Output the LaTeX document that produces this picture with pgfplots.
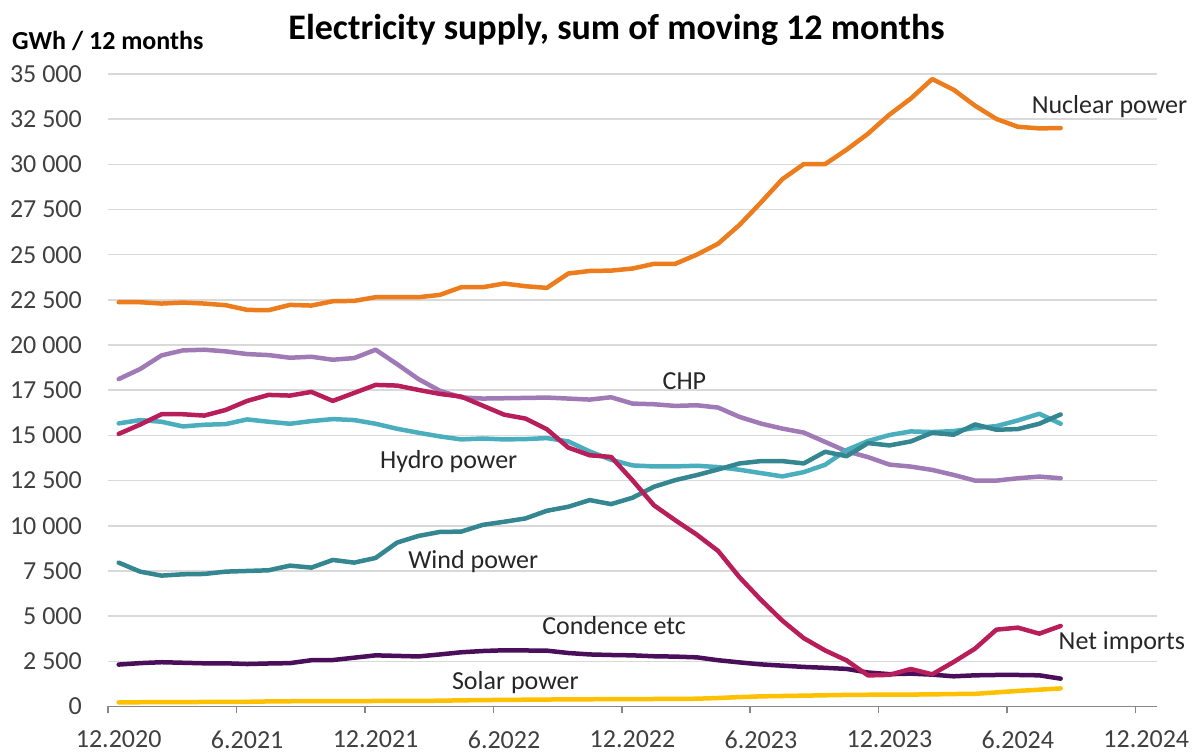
\documentclass[border=0pt]{standalone}
\usepackage{fontspec}
\setmainfont{Carlito}
\usepackage{pgfplots}
\usepackage{pgfplotstable}
\pgfplotsset{compat=1.18}
\definecolor{cNuc}{RGB}{237,125,28}
\definecolor{cCHP}{RGB}{160,122,182}
\definecolor{cHyd}{RGB}{75,174,190}
\definecolor{cWind}{RGB}{52,134,145}
\definecolor{cImp}{RGB}{184,30,90}
\definecolor{cCond}{RGB}{74,14,90}
\definecolor{cSol}{RGB}{255,192,0}
\definecolor{gridgray}{RGB}{217,217,217}
\definecolor{axisgray}{RGB}{134,134,134}
\definecolor{tickgray}{RGB}{64,64,64}
\definecolor{labgray}{RGB}{38,38,38}
\tikzset{labnode/.style={font=\fontsize{26}{31}\selectfont, text=labgray, inner sep=0pt}}
\pgfplotstableread{
x nuc chp hyd wind imp cond sol
0.5 22371 18118 15664 7961 15083 2320 230
1.5 22371 18672 15849 7463 15600 2400 235
2.5 22297 19428 15756 7242 16172 2450 240
3.5 22352 19705 15498 7316 16172 2420 245
4.5 22297 19742 15590 7334 16098 2390 250
5.5 22205 19650 15627 7463 16411 2390 255
6.5 21946 19502 15886 7500 16910 2350 260
7.5 21928 19446 15756 7537 17242 2380 280
8.5 22223 19299 15646 7795 17205 2400 290
9.5 22186 19354 15793 7685 17408 2560 295
10.5 22426 19188 15904 8109 16910 2570 300
11.5 22445 19280 15849 7961 17352 2700 300
12.5 22648 19742 15646 8220 17795 2830 305
13.5 22648 18948 15369 9068 17758 2800 305
14.5 22648 18118 15148 9437 17518 2770 310
15.5 22777 17472 14945 9659 17297 2880 320
16.5 23201 17103 14779 9677 17149 3000 340
17.5 23201 17040 14830 10050 16650 3070 355
18.5 23404 17057 14779 10221 16150 3110 365
19.5 23256 17075 14797 10406 15932 3100 375
20.5 23164 17094 14852 10830 15342 3090 385
21.5 23958 17039 14668 11052 14327 2960 395
22.5 24100 16983 14114 11421 13902 2880 400
23.5 24120 17112 13653 11199 13810 2850 405
24.5 24235 16762 13340 11550 12519 2830 410
25.5 24495 16725 13284 12159 11135 2780 415
26.5 24495 16633 13284 12528 10305 2760 420
27.5 25000 16670 13321 12804 9512 2720 430
28.5 25610 16541 13247 13118 8607 2560 470
29.5 26650 16024 13100 13450 7150 2440 520
30.5 27890 15655 12915 13579 5900 2330 560
31.5 29180 15378 12731 13579 4750 2260 580
32.5 30015 15157 12970 13450 3780 2190 600
33.5 30015 14640 13376 14096 3100 2140 620
34.5 30810 14120 14190 13850 2550 2080 640
35.5 31695 13800 14690 14576 1720 1880 650
36.5 32750 13386 15020 14447 1750 1790 655
37.5 33640 13275 15221 14668 2076 1817 660
38.5 34720 13090 15185 15148 1780 1762 670
39.5 34130 12814 15240 15037 2463 1670 690
40.5 33245 12500 15406 15609 3201 1725 700
41.5 32510 12500 15517 15314 4253 1744 780
42.5 32080 12629 15830 15351 4363 1744 860
43.5 31990 12721 16199 15646 4031 1725 930
44.5 32010 12629 15646 16162 4456 1541 1000
}\data
\begin{document}
\begin{tikzpicture}
\path[use as bounding box] (-108pt,-47.5pt) rectangle (1084pt,706.5pt);
\begin{axis}[
  at={(0pt,0pt)}, anchor=south west,
  width=1049pt, height=632.5pt, scale only axis,
  xmin=0, xmax=49, ymin=0, ymax=35000,
  scaled y ticks=false, scaled x ticks=false,
  axis x line*=bottom, axis y line*=left,
  y axis line style={draw=none},
  x axis line style={line width=1.5pt, color=axisgray},
  xtick={0,6,12,18,24,30,36,42,48},
  xticklabels={12.2020,6.2021,12.2021,6.2022,12.2022,6.2023,12.2023,6.2024,12.2024},
  ytick={0,2500,5000,7500,10000,12500,15000,17500,20000,22500,25000,27500,30000,32500,35000},
  yticklabels={0,2 500,5 000,7 500,10 000,12 500,15 000,17 500,20 000,22 500,25 000,27 500,30 000,32 500,35 000},
  ymajorgrids, grid style={line width=1.5pt, color=gridgray},
  xtick style={line width=1.5pt, color=axisgray},
  ytick style={draw=none},
  tick align=outside, major tick length=7pt,
  tick label style={font=\fontsize{26}{31}\selectfont, text=tickgray},
  xticklabel style={anchor=north, inner sep=0pt, yshift=-17pt, xshift=10.7pt},
  yticklabel style={anchor=east, inner sep=0pt, xshift=-19pt},
  clip=false,
  every axis plot/.append style={line width=4.5pt, line join=round, line cap=round, mark=none},
]
\addplot[cCHP] table[x=x, y=chp] {\data};
\addplot[cHyd] table[x=x, y=hyd] {\data};
\addplot[cWind] table[x=x, y=wind] {\data};
\addplot[cSol] table[x=x, y=sol] {\data};
\addplot[cCond] table[x=x, y=cond] {\data};
\addplot[cImp] table[x=x, y=imp] {\data};
\addplot[cNuc] table[x=x, y=nuc] {\data};
\node[labnode, anchor=base west] at (axis cs:43.14,32790) {Nuclear power};
\node[labnode, anchor=base west] at (axis cs:25.9,17515) {CHP};
\node[labnode, anchor=base west] at (axis cs:12.7,13143) {Hydro power};
\node[labnode, anchor=base west] at (axis cs:14.02,7648) {Wind power};
\node[labnode, anchor=base west] at (axis cs:20.28,3957) {Condence etc};
\node[labnode, anchor=base west] at (axis cs:16.06,968) {Solar power};
\node[labnode, anchor=base west] at (axis cs:44.4,3165) {Net imports};
\end{axis}
\node[anchor=base, inner sep=0pt, font=\fontsize{36}{43}\selectfont\bfseries] at (508.5pt,667pt) {Electricity supply, sum of moving 12 months};
\node[anchor=base west, inner sep=0pt, font=\fontsize{26}{31}\selectfont\bfseries] at (-96pt,657pt) {GWh / 12 months};
\end{tikzpicture}
\end{document}
